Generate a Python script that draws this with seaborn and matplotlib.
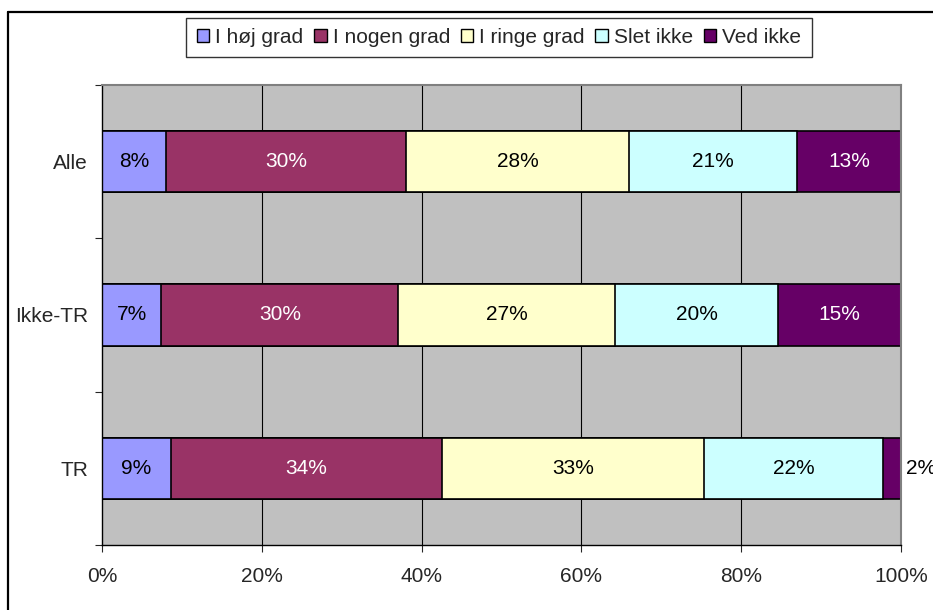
import numpy as np
import pandas as pd
import matplotlib
matplotlib.use("Agg")
import matplotlib.pyplot as plt
import seaborn as sns
from matplotlib.lines import Line2D
from matplotlib.patches import Patch

groups = ["Alle", "Ikke-TR", "TR"]
answers = ["I høj grad", "I nogen grad", "I ringe grad", "Slet ikke", "Ved ikke"]
hoj_grad = [8.0, 7.4, 8.6]
nogen_grad = [30.0, 29.7, 34.0]
ringe_grad = [28.0, 27.1, 32.8]
slet_ikke = [21.0, 20.4, 22.3]
ved_ikke = [13.0, 15.4, 2.3]
colors = ["#9999FF", "#993366", "#FFFFCC", "#CCFFFF", "#660066"]
text_colors = ["black", "white", "black", "black", "white"]
xticks = [0, 20, 40, 60, 80, 100]

sns.set_style("white")
plt.rcParams["font.family"] = ["Liberation Sans", "DejaVu Sans"]
fs = 15

df = pd.DataFrame({"group": groups}).assign(**dict(zip(answers, [hoj_grad, nogen_grad, ringe_grad, slet_ikke, ved_ikke])))
cum = df[answers].cumsum(axis=1)

fig = plt.figure(figsize=(9.33, 6.10), dpi=100)
ax = fig.add_axes([102 / 933, 1 - 545 / 610, 799 / 933, 460 / 610])
ax.set_facecolor("#C0C0C0")

# grid lines under the bars
for x in xticks[1:-1]:
    ax.axvline(x, color="black", lw=0.8, zorder=0)

# stacked bars: draw cumulative totals from the largest down
for i in range(len(answers) - 1, -1, -1):
    sns.barplot(x=cum[answers[i]], y=df["group"], orient="h", color=colors[i],
                width=0.4, edgecolor="black", linewidth=1.2, saturation=1, ax=ax, zorder=2)

for r, g in enumerate(groups):
    left = 0
    for i, a in enumerate(answers):
        v = df.loc[r, a]
        lab = f"{v:.0f}%"
        if v < 4:
            ax.text(left + v + 0.6, r, lab, ha="left", va="center", fontsize=fs, color="black", clip_on=False)
        else:
            ax.text(left + v / 2, r, lab, ha="center", va="center", fontsize=fs, color=text_colors[i], zorder=3)
        left += v

ax.set_xlim(0, 100)
ax.set_ylim(2.5, -0.5)
ax.set_xticks(xticks)
ax.set_xticklabels([f"{x}%" for x in xticks], fontsize=fs)
ax.set_yticks(range(len(groups)))
ax.set_yticklabels(groups, fontsize=fs)
ax.set_yticks([-0.5, 0.5, 1.5, 2.5], minor=True)
ax.tick_params(axis="y", which="major", length=0, pad=10)
ax.tick_params(axis="y", which="minor", length=5, width=0.8, direction="out", left=True)
ax.tick_params(axis="x", length=5, width=0.8, direction="out", bottom=True, pad=11)
ax.set_xlabel("")
ax.set_ylabel("")
for s in ["left", "bottom"]:
    ax.spines[s].set_color("black")
    ax.spines[s].set_linewidth(1)
for s in ["top", "right"]:
    ax.spines[s].set_color("#808080")
    ax.spines[s].set_linewidth(1.5)
    ax.spines[s].set_visible(True)

handles = [Patch(facecolor=c, edgecolor="black", linewidth=1) for c in colors]
leg = fig.legend(handles, answers, loc="center", bbox_to_anchor=(499 / 933, 1 - 37.5 / 610),
                 ncol=5, frameon=True, fancybox=False, edgecolor="black", fontsize=fs,
                 handlelength=0.6, handleheight=0.6, handletextpad=0.3, columnspacing=0.5,
                 borderpad=0.5, borderaxespad=0)
leg.get_frame().set_linewidth(1)

# outer chart border
fig.add_artist(Line2D([8 / 933, 8 / 933], [0, 1 - 12 / 610], color="black", lw=1.6, transform=fig.transFigure))
fig.add_artist(Line2D([8 / 933, 1], [1 - 12 / 610, 1 - 12 / 610], color="black", lw=1.6, transform=fig.transFigure))

fig.savefig("out.png", dpi=100, facecolor="white")
